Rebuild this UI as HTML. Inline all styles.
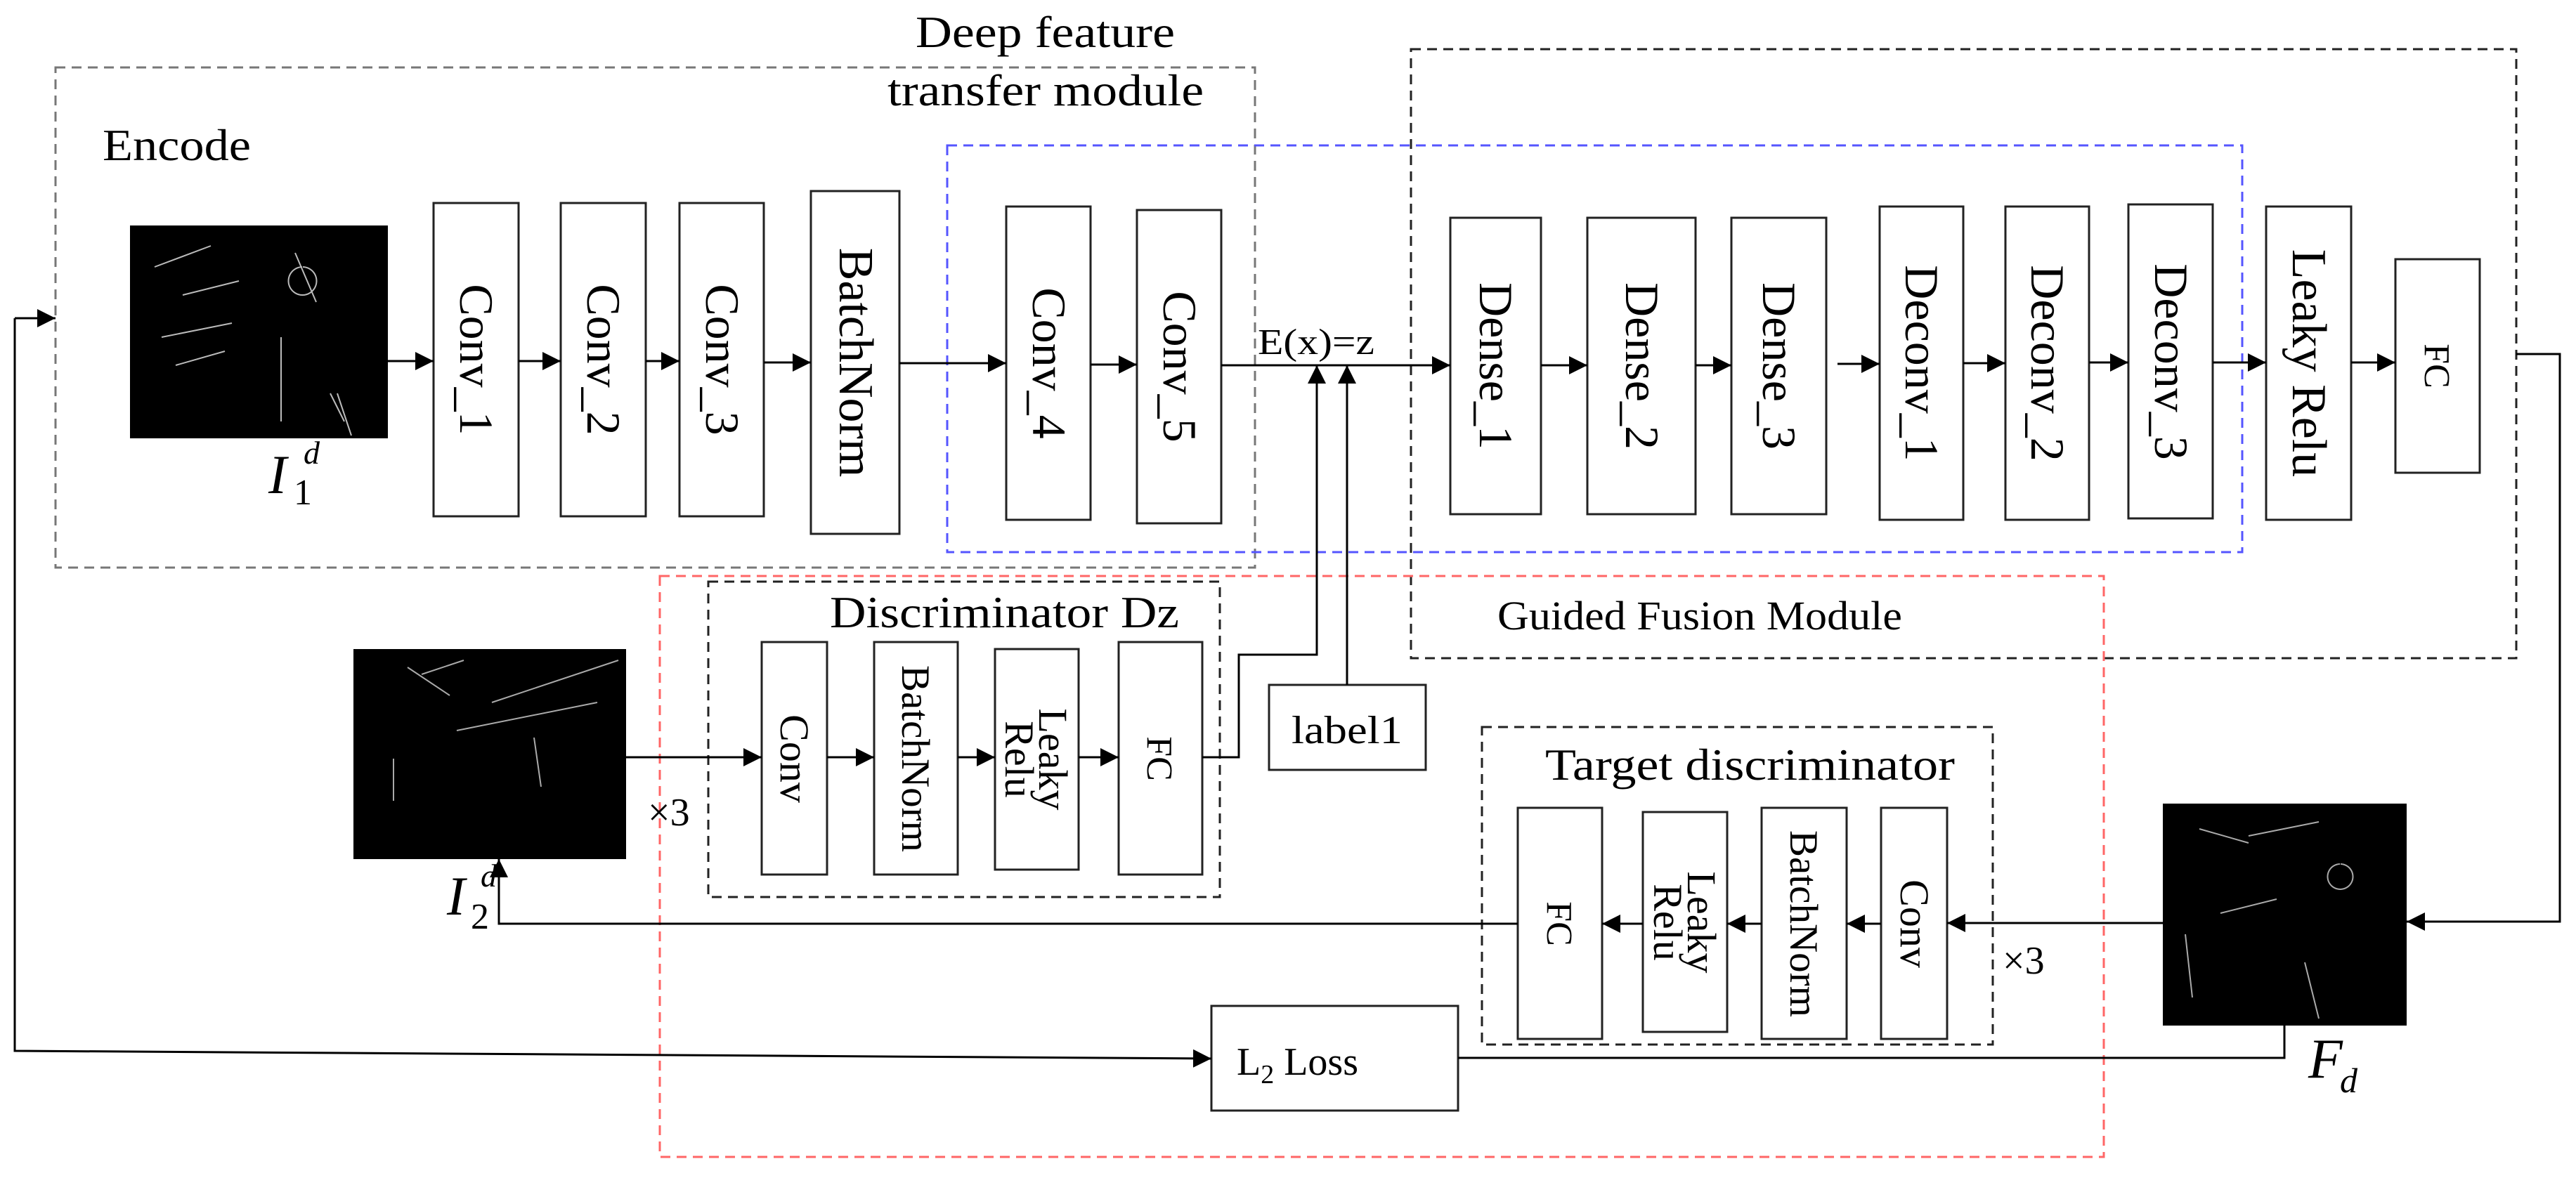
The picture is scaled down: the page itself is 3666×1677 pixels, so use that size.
<!DOCTYPE html>
<html><head><meta charset="utf-8"><style>html,body{margin:0;padding:0;background:#fff}svg{display:block}</style></head>
<body>
<svg width="3666" height="1677" viewBox="0 0 3666 1677" xmlns="http://www.w3.org/2000/svg" font-family="Liberation Serif, serif">
<defs>
<marker id="a" markerUnits="userSpaceOnUse" markerWidth="30" markerHeight="30" refX="26" refY="13" orient="auto"><path d="M0,0 L26,13 L0,26 z" fill="#000"/></marker>
</defs>
<g fill="none" stroke-width="3">
<rect x="79" y="96" width="1707" height="712" stroke="#777" stroke-dasharray="14,9"/>
<rect x="1348" y="207" width="1843" height="579" stroke="#5555ff" stroke-dasharray="14,9"/>
<rect x="2008" y="70" width="1573" height="867" stroke="#222" stroke-dasharray="14,9"/>
<rect x="939" y="820" width="2055" height="827" stroke="#ff6666" stroke-dasharray="14,9"/>
<rect x="1008" y="828" width="728" height="449" stroke="#222" stroke-dasharray="14,9"/>
<rect x="2109" y="1035" width="727" height="452" stroke="#222" stroke-dasharray="14,9"/>
</g>
<!-- images -->
<g>
<rect x="185" y="321" width="367" height="303" fill="#000"/>
<g stroke="#bbb" stroke-width="2" fill="none">
<path d="M220,380 L300,350 M260,420 L340,400 M420,360 L450,430 M430,380 a20,20 0 1,0 1,0 M480,560 L500,620 M470,560 L490,600 M230,480 L330,460 M400,480 L400,600 M250,520 L320,500"/>
</g>
<rect x="503" y="924" width="388" height="299" fill="#000"/>
<g stroke="#aaa" stroke-width="2" fill="none"><path d="M580,950 L640,990 M600,960 L660,940 M700,1000 L880,940 M560,1080 L560,1140 M760,1050 L770,1120 M650,1040 L850,1000"/></g>
<rect x="3078" y="1144" width="347" height="316" fill="#000"/>
<g stroke="#aaa" stroke-width="2" fill="none"><path d="M3130,1180 L3200,1200 M3330,1230 a18,18 0 1,0 1,0 M3160,1300 L3240,1280 M3280,1370 L3300,1450 M3110,1330 L3120,1420 M3200,1190 L3300,1170"/></g>
</g>
<!-- boxes -->
<g fill="#fff" stroke="#222" stroke-width="3">
<rect x="617" y="289" width="121" height="446"/>
<rect x="798" y="289" width="121" height="446"/>
<rect x="967" y="289" width="120" height="446"/>
<rect x="1154" y="272" width="126" height="488"/>
<rect x="1432" y="294" width="120" height="446"/>
<rect x="1618" y="299" width="120" height="446"/>
<rect x="2064" y="310" width="129" height="422"/>
<rect x="2259" y="310" width="154" height="422"/>
<rect x="2464" y="310" width="135" height="422"/>
<rect x="2675" y="294" width="119" height="446"/>
<rect x="2854" y="294" width="119" height="446"/>
<rect x="3029" y="291" width="120" height="447"/>
<rect x="3225" y="294" width="121" height="446"/>
<rect x="3409" y="369" width="120" height="304"/>
<rect x="1084" y="914" width="93" height="331"/>
<rect x="1244" y="914" width="119" height="331"/>
<rect x="1416" y="924" width="119" height="314"/>
<rect x="1592" y="914" width="119" height="331"/>
<rect x="1806" y="975" width="223" height="121"/>
<rect x="2160" y="1150" width="120" height="329"/>
<rect x="2338" y="1156" width="120" height="313"/>
<rect x="2507" y="1150" width="121" height="329"/>
<rect x="2677" y="1150" width="94" height="329"/>
<rect x="1724" y="1432" width="351" height="149"/>
</g>
<!-- connectors -->
<g stroke="#000" stroke-width="3" fill="none">
<path d="M552,514 H617" marker-end="url(#a)"/>
<path d="M738,514 H798" marker-end="url(#a)"/>
<path d="M919,514 H967" marker-end="url(#a)"/>
<path d="M1087,516 H1154" marker-end="url(#a)"/>
<path d="M1280,517 H1432" marker-end="url(#a)"/>
<path d="M1552,519 H1618" marker-end="url(#a)"/>
<path d="M1738,520 H2064" marker-end="url(#a)"/>
<path d="M2193,520 H2259" marker-end="url(#a)"/>
<path d="M2413,520 H2464" marker-end="url(#a)"/>
<path d="M2615,518 H2675" marker-end="url(#a)"/>
<path d="M2794,517 H2854" marker-end="url(#a)"/>
<path d="M2973,516 H3029" marker-end="url(#a)"/>
<path d="M3149,516 H3225" marker-end="url(#a)"/>
<path d="M3346,516 H3409" marker-end="url(#a)"/>
<path d="M3581,504 H3643 V1312 H3425" marker-end="url(#a)"/>
<path d="M891,1078 H1084" marker-end="url(#a)"/>
<path d="M1177,1078 H1244" marker-end="url(#a)"/>
<path d="M1363,1078 H1416" marker-end="url(#a)"/>
<path d="M1535,1078 H1592" marker-end="url(#a)"/>
<path d="M1711,1078 H1763 V932 H1874 V520" marker-end="url(#a)"/>
<path d="M1917,975 V520" marker-end="url(#a)"/>
<path d="M3078,1314 H2771" marker-end="url(#a)"/>
<path d="M2677,1315 H2628" marker-end="url(#a)"/>
<path d="M2507,1315 H2458" marker-end="url(#a)"/>
<path d="M2338,1315 H2280" marker-end="url(#a)"/>
<path d="M2160,1315 H710 V1223" marker-end="url(#a)"/>
<path d="M21,453 H79" marker-end="url(#a)"/>
<path d="M21,453 V1496 L1724,1507" marker-end="url(#a)"/>
<path d="M2075,1506 H3251 V1460"/>
</g>
<!-- text -->
<g fill="#000" font-size="64">
<text x="1303" y="67" textLength="369" lengthAdjust="spacingAndGlyphs">Deep feature</text>
<text x="1263" y="150" textLength="450" lengthAdjust="spacingAndGlyphs">transfer module</text>
<text x="146" y="228" textLength="211" lengthAdjust="spacingAndGlyphs">Encode</text>
<text x="1790" y="504" font-size="52" textLength="166" lengthAdjust="spacingAndGlyphs">E(x)=z</text>
<text x="1181" y="893" textLength="497" lengthAdjust="spacingAndGlyphs">Discriminator Dz</text>
<text x="2131" y="896" font-size="58" textLength="576" lengthAdjust="spacingAndGlyphs">Guided Fusion Module</text>
<text x="2199" y="1110" textLength="583" lengthAdjust="spacingAndGlyphs">Target discriminator</text>
<text x="1838" y="1058" font-size="56" textLength="158" lengthAdjust="spacingAndGlyphs">label1</text>
<text x="1760" y="1530" font-size="56">L<tspan font-size="38" dy="12">2</tspan><tspan dy="-12"> Loss</tspan></text>
<text x="922" y="1175" font-size="56">×3</text>
<text x="2850" y="1386" font-size="56">×3</text>
<text x="382" y="702" font-size="78" font-style="italic">I</text>
<text x="418" y="718" font-size="52">1</text>
<text x="432" y="660" font-size="46" font-style="italic">d</text>
<text x="636" y="1302" font-size="78" font-style="italic">I</text>
<text x="670" y="1322" font-size="52">2</text>
<text x="684" y="1262" font-size="46" font-style="italic">d</text>
<text x="3285" y="1534" font-size="80" font-style="italic">F</text>
<text x="3330" y="1555" font-size="50" font-style="italic">d</text>
</g>
<g fill="#000" font-size="68" text-anchor="middle">
<text transform="translate(677,512) rotate(90)" dy="22">Conv_1</text>
<text transform="translate(858,512) rotate(90)" dy="22">Conv_2</text>
<text transform="translate(1027,512) rotate(90)" dy="22">Conv_3</text>
<text transform="translate(1217,516) rotate(90)" dy="22" font-size="70">BatchNorm</text>
<text transform="translate(1492,517) rotate(90)" dy="22">Conv_4</text>
<text transform="translate(1678,522) rotate(90)" dy="22">Conv_5</text>
<text transform="translate(2128,521) rotate(90)" dy="22">Dense_1</text>
<text transform="translate(2336,521) rotate(90)" dy="22">Dense_2</text>
<text transform="translate(2531,521) rotate(90)" dy="22">Dense_3</text>
<text transform="translate(2734,517) rotate(90)" dy="22">Deconv_1</text>
<text transform="translate(2913,517) rotate(90)" dy="22">Deconv_2</text>
<text transform="translate(3089,515) rotate(90)" dy="22">Deconv_3</text>
<text transform="translate(3285,517) rotate(90)" dy="22" font-size="70">Leaky Relu</text>
<text transform="translate(3469,521) rotate(90)" dy="18" font-size="52">FC</text>
<g font-size="58">
<text transform="translate(1130,1080) rotate(90)" dy="19">Conv</text>
<text transform="translate(1303,1080) rotate(90)" dy="19" font-size="57">BatchNorm</text>
<text transform="translate(1475,1081) rotate(90)" dy="-4">Leaky</text>
<text transform="translate(1475,1081) rotate(90)" dy="44">Relu</text>
<text transform="translate(1651,1080) rotate(90)" dy="18" font-size="52">FC</text>
<text transform="translate(2220,1315) rotate(90)" dy="18" font-size="52">FC</text>
<text transform="translate(2398,1313) rotate(90)" dy="-4">Leaky</text>
<text transform="translate(2398,1313) rotate(90)" dy="44">Relu</text>
<text transform="translate(2567,1315) rotate(90)" dy="19" font-size="57">BatchNorm</text>
<text transform="translate(2724,1315) rotate(90)" dy="19">Conv</text>
</g>
</g>
</svg>
</body></html>
